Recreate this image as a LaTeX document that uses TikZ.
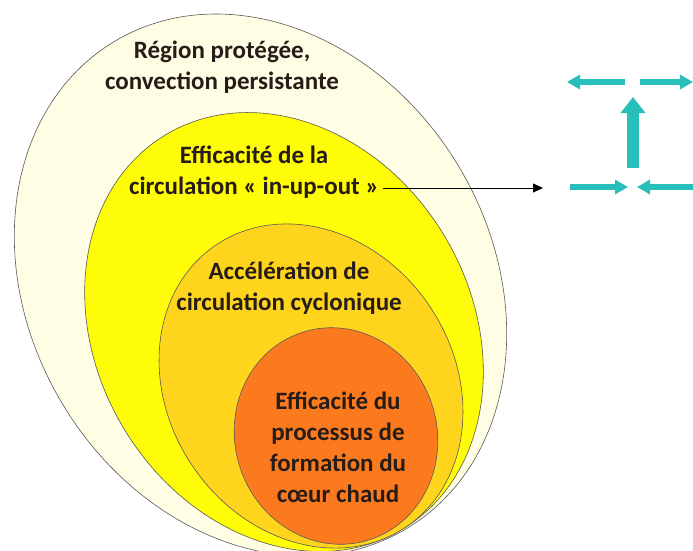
\documentclass[tikz,border=0pt]{standalone}
\usepackage{fontspec}
\setmainfont{Carlito}
\usetikzlibrary{arrows.meta}

\definecolor{creme}{RGB}{255,253,228}
\definecolor{jaune}{RGB}{255,252,8}
\definecolor{ocre}{RGB}{255,212,28}
\definecolor{orange1}{RGB}{252,122,30}
\definecolor{turq}{RGB}{40,190,186}
\definecolor{encre}{RGB}{38,28,24}

\begin{document}
\begin{tikzpicture}[x=1pt,y=-1pt,
  zone/.style={draw=black!65,line width=0.6pt},
  lbl/.style={align=center,text=encre,font=\fontsize{25}{31}\selectfont\bfseries},
  flux/.style={draw=turq,line width=6.5pt,-{Triangle[length=13pt,width=14pt]}},
  ascend/.style={draw=turq,line width=12pt,-{Triangle[length=16pt,width=24pt]}}]
\clip (0,0) rectangle (693,550);

%--------------------------------- zones
\draw[zone,fill=creme,rotate around={31:(260.5,285)}] (260.5,285) ellipse [x radius=231pt,y radius=284pt];
\draw[zone,fill=jaune,rotate around={31:(284,332)}] (284,332) ellipse [x radius=187pt,y radius=230pt];
\draw[zone,fill=ocre,rotate around={34:(311,386)}] (311,386) ellipse [x radius=143pt,y radius=170pt];
\draw[zone,fill=orange1,rotate around={18:(336,436)}] (336,436) ellipse [x radius=101pt,y radius=109pt];

%--------------------------------- textes
\node[lbl] (region) at (222,67) {Région protégée,\\convection persistante};
\node[lbl] (circ) at (254,172) {Efficacité de la\\circulation « in-up-out »};
\node[lbl] (accel) at (289,288) {Accélération de\\circulation cyclonique};
\node[lbl] (coeur) at (338,447) {Efficacité du\\processus de\\formation du\\cœur chaud};

%--------------------------------- fleche vers le schema
\coordinate (schema) at (543,188);
\draw[line width=0.8pt,-{Triangle[length=10pt,width=9pt]}] (circ.east |- schema) ++(1,0) -- (schema);

%--------------------------------- in-up-out
\coordinate (hg) at (567,82);
\coordinate (hd) at (693,82);
\coordinate (bg) at (628,187);
\coordinate (bd) at (637,187);
\draw[flux] (625,82) -- (hg);
\draw[flux] (640,82) -- (hd);
\draw[ascend] (633,168) -- (633,97);
\draw[flux] (570,187) -- (bg);
\draw[flux] (693,187) -- (bd);

\end{tikzpicture}
\end{document}
